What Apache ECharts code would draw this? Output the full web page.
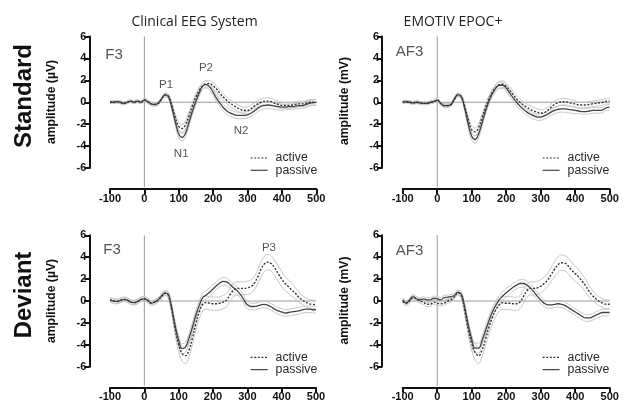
<!DOCTYPE html>
<html><head><meta charset="utf-8">
<script src="https://cdn.jsdelivr.net/npm/echarts@6/dist/echarts.min.js"></script>
<style>html,body{margin:0;padding:0;background:#fff}#c{width:633px;height:417px}</style>
</head><body><div id="c"></div>
<script>
// time samples (ms)
const time = [-100,-90,-80,-70,-60,-50,-40,-30,-20,-10,0,10,20,30,40,50,60,70,80,90,100,110,120,130,140,150,160,170,180,190,200,210,220,230,240,250,260,270,280,290,300,310,320,330,340,350,360,370,380,390,400,410,420,430,440,450,460,470,480,490,500];
const xTicks = [-100,0,100,200,300,400,500];
const yTicks = [-6,-4,-2,0,2,4,6];

// Standard, Clinical EEG (F3)
const stdClinActive = [0,0,0.05,0,-0.1,0,0.1,0,0.1,0,0.2,0.05,-0.15,-0.2,-0.1,0.3,0.65,0.55,-0.3,-1.4,-2.2,-2.4,-2.0,-1.2,-0.3,0.5,1.1,1.5,1.7,1.7,1.5,1.2,0.8,0.45,0.15,-0.1,-0.3,-0.5,-0.65,-0.75,-0.75,-0.6,-0.35,-0.15,0,0.1,0.1,0.05,-0.1,-0.2,-0.3,-0.3,-0.3,-0.25,-0.2,-0.15,-0.15,-0.1,0,0,0];
const stdClinPassive = [0,0,0.05,0,-0.1,0,0.1,0,0.1,0,0.2,0.05,-0.15,-0.2,-0.1,0.3,0.7,0.5,-0.5,-1.8,-2.9,-3.2,-2.8,-1.8,-0.8,0.1,0.9,1.5,1.6,1.4,0.9,0.35,-0.1,-0.5,-0.8,-1.0,-1.1,-1.2,-1.2,-1.2,-1.15,-1.0,-0.8,-0.55,-0.35,-0.3,-0.25,-0.3,-0.35,-0.4,-0.45,-0.45,-0.4,-0.4,-0.35,-0.3,-0.3,-0.2,-0.1,-0.05,0];
// Standard, EMOTIV (AF3)
const stdEmoActive = [0,0.05,0,-0.05,0,-0.05,-0.1,-0.1,0,0.05,0.2,-0.1,-0.3,-0.3,-0.2,0.3,0.65,0.5,-0.4,-1.6,-2.5,-2.7,-2.3,-1.4,-0.5,0.3,0.9,1.35,1.6,1.65,1.45,1.1,0.7,0.3,0,-0.25,-0.45,-0.65,-0.8,-0.9,-1.0,-0.95,-0.75,-0.45,-0.2,-0.05,0.05,0.05,0,-0.1,-0.15,-0.25,-0.25,-0.25,-0.2,-0.15,-0.1,-0.05,0,0.1,0.1];
const stdEmoPassive = [0,0.05,0,-0.05,0,-0.05,-0.1,-0.1,0,0.05,0.2,-0.1,-0.3,-0.3,-0.2,0.3,0.7,0.5,-0.6,-2.0,-3.1,-3.4,-2.9,-1.9,-0.8,0.1,0.8,1.3,1.55,1.55,1.3,0.85,0.4,0,-0.35,-0.65,-0.9,-1.1,-1.25,-1.35,-1.35,-1.25,-1.1,-0.9,-0.75,-0.65,-0.6,-0.6,-0.65,-0.7,-0.75,-0.8,-0.85,-0.85,-0.8,-0.75,-0.75,-0.75,-0.7,-0.5,-0.45];
// Deviant, Clinical EEG (F3)
const devClinActive = [0.1,0,-0.05,0.05,0.15,0.1,-0.1,-0.15,-0.05,0.15,0.2,0.05,-0.2,-0.1,0.1,0.4,0.7,0.5,-0.8,-2.6,-4.0,-4.8,-5.0,-4.5,-3.4,-2.1,-1.0,-0.3,-0.15,-0.2,-0.25,-0.25,-0.2,-0.1,0.1,0.6,1.0,1.15,1.15,1.15,1.2,1.3,1.6,2.2,2.9,3.4,3.55,3.4,3.0,2.5,2.0,1.6,1.3,1.0,0.7,0.35,0.1,-0.1,-0.25,-0.3,-0.35];
const devClinPassive = [0.1,0,-0.05,0.05,0.15,0.1,-0.1,-0.15,-0.05,0.15,0.2,0.05,-0.2,-0.1,0.1,0.45,0.75,0.6,-0.7,-2.3,-3.6,-4.35,-4.2,-3.4,-2.4,-1.3,-0.4,0.3,0.55,0.8,1.1,1.4,1.65,1.8,1.75,1.5,1.2,0.95,0.6,0.1,-0.35,-0.5,-0.5,-0.45,-0.35,-0.3,-0.4,-0.55,-0.75,-0.9,-1.0,-1.1,-1.05,-1.0,-0.95,-0.9,-0.8,-0.75,-0.75,-0.8,-0.8];
// Deviant, EMOTIV (AF3)
const devEmoActive = [0,-0.2,0,0.3,0.2,0,-0.1,-0.3,-0.3,-0.1,-0.2,-0.25,-0.2,0,0.1,0.4,0.75,0.5,-0.9,-2.6,-3.9,-4.7,-5.0,-4.5,-3.5,-2.4,-1.5,-0.8,-0.35,-0.15,-0.2,-0.2,-0.25,-0.25,-0.1,0.4,0.95,1.15,1.15,1.2,1.35,1.6,1.9,2.4,2.9,3.3,3.5,3.45,3.2,2.8,2.5,2.2,1.8,1.4,0.9,0.5,0.2,-0.05,-0.2,-0.3,-0.3];
const devEmoPassive = [0.1,-0.2,0.1,0.4,0.2,0.1,0.2,0.1,0.1,0.25,0.2,0.1,0.3,0.35,0.4,0.5,0.8,0.6,-0.6,-2.2,-3.5,-4.3,-4.3,-3.6,-2.7,-1.8,-1.0,-0.4,0.1,0.45,0.75,1.0,1.25,1.45,1.6,1.6,1.45,1.2,0.85,0.45,0.1,-0.2,-0.35,-0.35,-0.3,-0.25,-0.3,-0.4,-0.6,-0.8,-1.0,-1.2,-1.4,-1.55,-1.55,-1.45,-1.3,-1.15,-1.05,-1.05,-1.05];

// standard error bands (half-widths)
const semStd = [0.12,0.12,0.12,0.12,0.12,0.12,0.12,0.12,0.12,0.12,0.15,0.15,0.15,0.15,0.15,0.15,0.15,0.2,0.25,0.3,0.35,0.35,0.35,0.3,0.3,0.3,0.3,0.3,0.3,0.3,0.3,0.3,0.3,0.3,0.3,0.3,0.3,0.3,0.3,0.3,0.3,0.3,0.3,0.3,0.3,0.3,0.3,0.3,0.3,0.3,0.3,0.25,0.25,0.25,0.25,0.25,0.25,0.25,0.25,0.25,0.25];
const semDevActive = [0.2,0.2,0.2,0.2,0.2,0.2,0.2,0.2,0.2,0.2,0.2,0.2,0.2,0.2,0.2,0.2,0.2,0.3,0.4,0.5,0.6,0.7,0.7,0.6,0.6,0.6,0.6,0.6,0.6,0.6,0.6,0.6,0.6,0.6,0.6,0.6,0.6,0.6,0.6,0.6,0.6,0.6,0.6,0.65,0.7,0.7,0.7,0.7,0.7,0.7,0.7,0.65,0.6,0.6,0.5,0.5,0.4,0.4,0.4,0.4,0.4];
const semDevPassive = [0.2,0.2,0.2,0.2,0.2,0.2,0.2,0.2,0.2,0.2,0.2,0.2,0.2,0.2,0.2,0.2,0.2,0.25,0.3,0.35,0.4,0.45,0.45,0.4,0.4,0.4,0.4,0.4,0.4,0.4,0.4,0.35,0.35,0.35,0.35,0.35,0.35,0.35,0.35,0.35,0.35,0.3,0.3,0.3,0.3,0.3,0.3,0.3,0.3,0.3,0.3,0.3,0.3,0.3,0.3,0.3,0.3,0.3,0.3,0.3,0.3];

const columnTitles = ['Clinical EEG System', 'EMOTIV EPOC+'];
const rowTitles = ['Standard', 'Deviant'];
const yTitles = ['amplitude (µV)', 'amplitude (mV)'];
const channels = ['F3', 'AF3'];
const legendNames = ['active', 'passive'];
const componentLabels = [
  [{name:'P1', value:[63,1.6]},{name:'P2',value:[179,3.1]},{name:'N1',value:[107,-4.7]},{name:'N2',value:[281,-2.6]}],
  [],
  [{name:'P3', value:[363,4.85]}],
  []
];
const channelPos = [[-88,4.35],[-80,4.6],[-94,4.65],[-80,4.6]];

const panels = [
  {a: stdClinActive, p: stdClinPassive, sa: semStd, sp: semStd, ch: channels[0]},
  {a: stdEmoActive, p: stdEmoPassive, sa: semStd, sp: semStd, ch: channels[1]},
  {a: devClinActive, p: devClinPassive, sa: semDevActive, sp: semDevPassive, ch: channels[0]},
  {a: devEmoActive, p: devEmoPassive, sa: semDevActive, sp: semDevPassive, ch: channels[1]}
];

const layout = [
  {left:110, top:36.5, width:206.3, height:131.5},
  {left:402.7, top:36.5, width:207, height:131.5},
  {left:110, top:235.3, width:206, height:131.4},
  {left:402.7, top:235.3, width:207, height:131.4}
];

const lineCol = '#333';
const bandCol = '#c6c6c6';
const tickFont = {fontFamily:'Liberation Sans, Arial', fontWeight:'bold', fontSize:11, color:'#111'};

const grid=[], xAxis=[], yAxis=[], series=[], legend=[];
panels.forEach((pn, g) => {
  grid.push(layout[g]);
  xAxis.push({gridIndex:g, type:'value', min:-100, max:500, interval:100, offset:21,
    axisLine:{show:true, onZero:false, lineStyle:{color:'#111', width:2}},
    axisTick:{show:true, length:5, lineStyle:{color:'#111', width:2}},
    axisLabel:Object.assign({margin:4, formatter: v => xTicks.includes(v) ? String(v) : ''}, tickFont),
    splitLine:{show:false}});
  yAxis.push({gridIndex:g, type:'value', min:-6, max:6, interval:2, offset:20.7,
    axisLine:{show:true, onZero:false, lineStyle:{color:'#111', width:2}},
    axisTick:{show:true, length:5, lineStyle:{color:'#111', width:2}},
    axisLabel:Object.assign({margin:3, formatter: v => yTicks.includes(v) ? String(v) : ''}, tickFont),
    splitLine:{show:false}});
  const base = {xAxisIndex:g, yAxisIndex:g, type:'line', symbol:'none', silent:true, animation:false};
  series.push(Object.assign({}, base, {name:'zeroH', data:[[-100,0],[500,0]], lineStyle:{color:'#9a9a9a', width:1}, z:1}));
  series.push(Object.assign({}, base, {name:'zeroV', clip:false, data:[[0,6],[0,-7.75]], lineStyle:{color:'#9a9a9a', width:1}, z:1}));
  const band = (vals, sem, sign) => time.map((t,i) => [t, vals[i] + sign*sem[i]]);
  [[pn.a, pn.sa],[pn.p, pn.sp]].forEach(([v,s]) => {
    [1,-1].forEach(sg => series.push(Object.assign({}, base, {name:'band', smooth:0.4, data:band(v,s,sg), lineStyle:{color:bandCol, width:1}, z:2})));
  });
  series.push(Object.assign({}, base, {name:'active', smooth:0.4, data:time.map((t,i)=>[t,pn.a[i]]), itemStyle:{color:lineCol}, lineStyle:{color:lineCol, width:1.4, type:[2,1.6]}, z:4}));
  series.push(Object.assign({}, base, {name:'passive', smooth:0.4, data:time.map((t,i)=>[t,pn.p[i]]), itemStyle:{color:'#444'}, lineStyle:{color:'#444', width:1.3}, z:3}));
  series.push({type:'scatter', xAxisIndex:g, yAxisIndex:g, silent:true, animation:false, symbolSize:0,
    data: componentLabels[g].concat([{name:pn.ch, value:channelPos[g], label:{fontSize:15, color:'#2a2a2a'}}]),
    label:{show:true, position:'inside', formatter:'{b}', fontFamily:'Liberation Sans, Arial', fontSize:11.5, color:'#2a2a2a'}});
  legend.push({data:legendNames.map(n=>({name:n})), orient:'vertical', selectedMode:false,
    left: g%2===0 ? 245 : 537, top: g<2 ? 147 : 346.3,
    itemWidth:17, itemHeight:14, itemGap:0.3,
    itemStyle:{opacity:0, borderWidth:0},
    lineStyle:{width:1.2},
    textStyle:{fontFamily:'Liberation Sans, Arial', fontSize:12.3, color:'#2a2a2a', padding:[0,0,0,3]}});
});

const graphic = [];
const colCenters = [194.5, 453];
columnTitles.forEach((t,i) => graphic.push({type:'text', x:colCenters[i], y:22, style:{text:t, font:'14px "Open Sans"', fill:'#222', textAlign:'center', textVerticalAlign:'middle'}}));
const rowCenters = [96, 295];
rowTitles.forEach((t,i) => graphic.push({type:'text', x:24, y:rowCenters[i], rotation:Math.PI/2, style:{text:t, font:'bold 24px "Liberation Sans", Arial', fill:'#111', textAlign:'center', textVerticalAlign:'middle'}}));
[[52,102,0],[52,301,0],[344.7,101,1],[344.7,300.5,1]].forEach(([x,y,k]) => graphic.push({type:'text', x:x, y:y, rotation:Math.PI/2, style:{text:yTitles[k], font:'bold 12.2px "Liberation Sans", Arial', fill:'#111', textAlign:'center', textVerticalAlign:'middle'}}));

const chart = echarts.init(document.getElementById('c'), null, {renderer:'canvas'});
chart.setOption({backgroundColor:'#fff', animation:false, grid, xAxis, yAxis, series, legend, graphic});
</script></body></html>
